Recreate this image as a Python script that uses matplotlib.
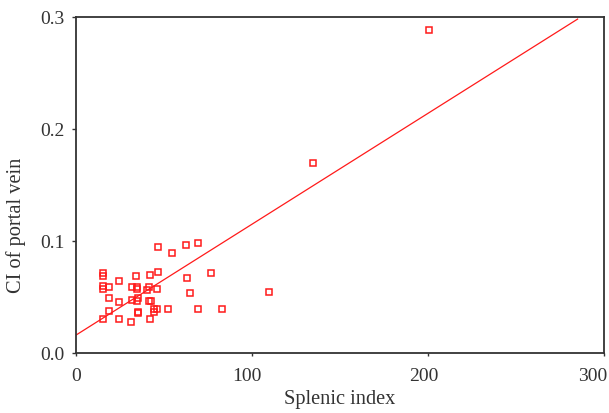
import matplotlib
matplotlib.use("Agg")
import matplotlib.pyplot as plt
import matplotlib.transforms as mtransforms
import numpy as np

# Data
splenic_index = [46.8, 54.7, 62.5, 69.3, 15.2, 15.2, 34.3, 42.2, 46.4, 76.9,
                 24.2, 63.1, 15.3, 15.3, 18.8, 32.0, 34.5, 34.5, 41.3, 40.5,
                 46.2, 65.0, 18.6, 24.2, 31.6, 34.5, 35.2, 41.7, 42.4, 18.75,
                 35.0, 35.4, 44.5, 44.5, 46.2, 52.3, 69.5, 82.8, 15.5, 24.2,
                 31.4, 42.2, 109.7, 134.5, 200.6]
ci_portal_vein = [0.0944, 0.0895, 0.0961, 0.0982, 0.0717, 0.0688, 0.0688, 0.0693, 0.0722, 0.0717,
                  0.0640, 0.0667, 0.0595, 0.0570, 0.0592, 0.0592, 0.0592, 0.0568, 0.0592, 0.0563,
                  0.0568, 0.0538, 0.0488, 0.0458, 0.0470, 0.0464, 0.0494, 0.0464, 0.0464, 0.0372,
                  0.0360, 0.0365, 0.0369, 0.0393, 0.0393, 0.0396, 0.0396, 0.0396, 0.0300, 0.0300,
                  0.0273, 0.0300, 0.0548, 0.1700, 0.2880]

fit_intercept = 0.016
fit_slope = 0.00099
fit_x_range = [0, 285]

x_ticks = [0, 100, 200, 300]
y_ticks = [0.0, 0.1, 0.2, 0.3]
y_tick_labels = ["0.0", "0.1", "0.2", "0.3"]

plt.rcParams['font.family'] = ['Liberation Serif', 'DejaVu Serif']

fig = plt.figure(figsize=(6.09, 4.14), dpi=100)
ax = fig.add_axes([76/609, 1-354/414, (604-76)/609, (354-18)/414])

red = '#ff1a1a'
ax.plot(splenic_index, ci_portal_vein, linestyle='none', marker='s', markersize=3.9,
        markerfacecolor='none', markeredgecolor=red, markeredgewidth=1.1, zorder=3)

fx = np.array(fit_x_range, dtype=float)
ax.plot(fx, fit_intercept + fit_slope * fx, color=red, linewidth=0.9, zorder=2)

ax.set_xlim(0, 300)
ax.set_ylim(0, 0.3)
ax.set_xticks(x_ticks)
ax.set_yticks(y_ticks)
ax.set_yticklabels(y_tick_labels)

for s in ax.spines.values():
    s.set_color('#333333')
    s.set_linewidth(1.3)

ax.tick_params(axis='y', direction='out', length=3, width=1, colors='#333333',
               labelsize=14, labelcolor='#333333', pad=5)
ax.tick_params(axis='x', direction='out', length=2, width=1, colors='#333333',
               labelsize=14, labelcolor='#333333', pad=8)

# small horizontal shifts of x tick labels as in the reference
shifts_px = [0, -5, -4, -11]
for lbl, dx in zip(ax.get_xticklabels(), shifts_px):
    lbl.set_transform(lbl.get_transform() +
                      mtransforms.ScaledTranslation(dx / 100, 0, fig.dpi_scale_trans))

ax.set_xlabel('Splenic index', fontsize=14.7, color='#333333')
ax.set_ylabel('CI of portal vein', fontsize=14.7, color='#333333')
ax.xaxis.set_label_coords(0.5, -0.108)
ax.yaxis.set_label_coords(-0.095, 0.384)

fig.savefig('out.png', dpi=100)
